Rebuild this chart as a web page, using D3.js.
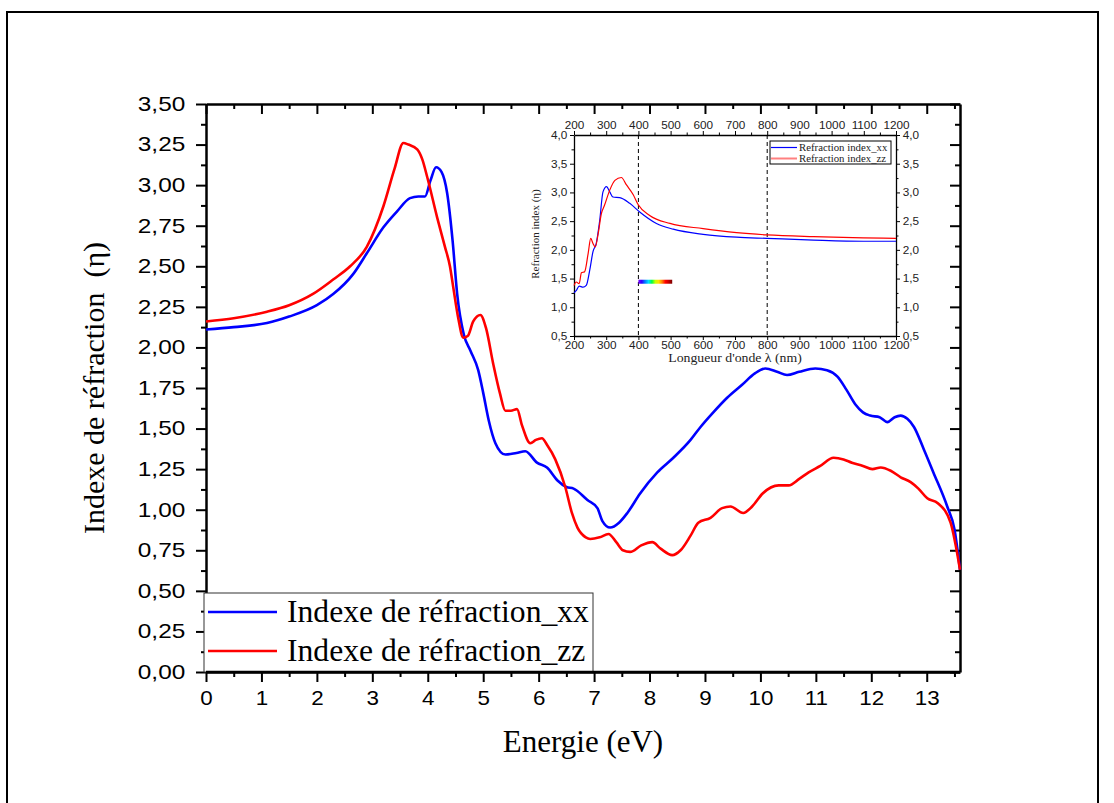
<!DOCTYPE html>
<html>
<head>
<meta charset="utf-8">
<script src="https://cdn.jsdelivr.net/npm/d3@7"></script>
<style>
  html, body { margin: 0; padding: 0; background: #fff; }
  svg { display: block; }
</style>
</head>
<body>
<svg id="chart" width="1114" height="803"></svg>
<script>
// Refractive index vs photon energy (eV), two polarisations
const energyXX = [0, 0.5, 1.1, 1.5, 2.0, 2.3, 2.65, 2.9, 3.2, 3.45, 3.68, 3.83, 3.95, 4.05, 4.15, 4.25, 4.35, 4.45, 4.53, 4.65, 4.77, 4.91, 5.0, 5.1, 5.22, 5.4, 5.6, 5.76, 5.97, 6.15, 6.34, 6.5, 6.63, 6.88, 7.06, 7.15, 7.29, 7.45, 7.6, 7.83, 8.14, 8.43, 8.74, 8.92, 9.15, 9.4, 9.67, 9.9, 10.09, 10.3, 10.48, 10.7, 10.99, 11.2, 11.39, 11.55, 11.71, 11.85, 11.98, 12.15, 12.29, 12.42, 12.53, 12.65, 12.77, 12.95, 13.12, 13.37, 13.5, 13.6];
const indexXX  = [2.11, 2.125, 2.15, 2.19, 2.26, 2.33, 2.45, 2.58, 2.74, 2.84, 2.92, 2.93, 2.93, 3.03, 3.11, 3.08, 2.95, 2.65, 2.33, 2.08, 1.98, 1.86, 1.72, 1.55, 1.41, 1.34, 1.35, 1.36, 1.29, 1.26, 1.18, 1.14, 1.13, 1.06, 1.01, 0.93, 0.89, 0.92, 0.98, 1.10, 1.23, 1.32, 1.43, 1.51, 1.60, 1.69, 1.77, 1.84, 1.87, 1.85, 1.83, 1.85, 1.87, 1.86, 1.82, 1.74, 1.65, 1.60, 1.58, 1.57, 1.54, 1.57, 1.58, 1.56, 1.51, 1.37, 1.23, 1.02, 0.88, 0.63];

const energyZZ = [0, 0.5, 1.1, 1.5, 1.93, 2.3, 2.6, 2.9, 3.2, 3.4, 3.56, 3.65, 3.81, 3.9, 3.99, 4.17, 4.31, 4.4, 4.46, 4.55, 4.64, 4.72, 4.82, 4.95, 5.05, 5.18, 5.3, 5.4, 5.5, 5.61, 5.7, 5.85, 5.95, 6.06, 6.15, 6.3, 6.48, 6.6, 6.7, 6.85, 6.93, 7.1, 7.26, 7.4, 7.52, 7.65, 7.85, 8.05, 8.2, 8.41, 8.56, 8.74, 8.88, 9.1, 9.31, 9.46, 9.69, 9.85, 10.04, 10.33, 10.51, 10.7, 10.87, 11.08, 11.32, 11.5, 11.65, 11.85, 12.02, 12.17, 12.35, 12.53, 12.71, 12.85, 13.01, 13.2, 13.43, 13.6];
const indexZZ  = [2.16, 2.18, 2.22, 2.26, 2.33, 2.42, 2.50, 2.62, 2.87, 3.10, 3.26, 3.25, 3.22, 3.16, 3.05, 2.80, 2.62, 2.50, 2.37, 2.18, 2.06, 2.07, 2.16, 2.20, 2.12, 1.90, 1.72, 1.61, 1.61, 1.62, 1.52, 1.41, 1.43, 1.44, 1.40, 1.31, 1.14, 0.98, 0.89, 0.83, 0.82, 0.83, 0.85, 0.80, 0.75, 0.74, 0.78, 0.80, 0.76, 0.72, 0.75, 0.84, 0.92, 0.95, 1.01, 1.02, 0.98, 1.02, 1.10, 1.15, 1.15, 1.19, 1.23, 1.27, 1.32, 1.31, 1.29, 1.27, 1.25, 1.26, 1.24, 1.20, 1.17, 1.13, 1.07, 1.04, 0.92, 0.63];

// Inset: refractive index vs wavelength (nm)
const waveXX  = [200, 208, 216, 228, 238, 249, 259, 269, 280, 290, 301, 311, 321, 342, 373, 404, 456, 508, 601, 705, 799, 944, 1099, 1200];
const insetXX = [1.25, 1.30, 1.37, 1.35, 1.38, 1.65, 1.97, 2.11, 2.52, 3.01, 3.10, 3.01, 2.92, 2.91, 2.81, 2.66, 2.46, 2.36, 2.27, 2.22, 2.20, 2.17, 2.15, 2.15];
const waveZZ  = [200, 207, 216, 223, 233, 244, 252, 259, 266, 275, 285, 295, 311, 327, 347, 363, 384, 399, 435, 498, 601, 705, 799, 944, 1099, 1200];
const insetZZ = [1.38, 1.44, 1.41, 1.60, 1.62, 1.94, 2.20, 2.11, 2.05, 2.28, 2.63, 2.78, 3.04, 3.21, 3.26, 3.13, 2.96, 2.79, 2.60, 2.46, 2.37, 2.30, 2.26, 2.23, 2.21, 2.20];

const energyTicks = d3.range(0, 14, 1);
const indexTicks = d3.range(0, 3.501, 0.25);
const waveTicks = d3.range(200, 1201, 100);
const insetIndexTicks = d3.range(0.5, 4.001, 0.5);
const visibleBand = [400, 800];
const spectrumRange = [400, 505];
const spectrumLevel = 1.445;
const spectrumColors = ["#7a00ff", "#2a00ff", "#0080ff", "#00e0ff", "#00ff40", "#c8ff00", "#ffe000", "#ff8000", "#ff0000", "#c00000", "#7a0000"];

const mainLegend = ["Indexe de réfraction_xx", "Indexe de réfraction_zz"];
const insetLegend = ["Refraction index_xx", "Refraction index_zz"];

const svg = d3.select("#chart");
const comma = f => d => d3.format(f)(d).replace(".", ",");

// outer frame
svg.append("path")
  .attr("d", "M7,803V12H1098V803")
  .attr("fill", "none").attr("stroke", "#000").attr("stroke-width", 2);

// ---------- main plot ----------
const x = d3.scaleLinear().domain([0, 13.6]).range([206, 960]);
const y = d3.scaleLinear().domain([0, 3.5]).range([672, 104]);

const main = svg.append("g");
const tickFont = "'Liberation Sans', Arial, sans-serif";
const serif = "'Liberation Serif', 'Times New Roman', serif";

function styleAxis(g, w) {
  g.select(".domain").attr("stroke-width", w);
  g.selectAll(".tick line").attr("stroke-width", w * 0.8);
}

// minor ticks
main.append("g").attr("transform", "translate(0,672)")
  .call(d3.axisBottom(x).tickValues(d3.range(0.5, 13.6, 1)).tickSize(5).tickFormat(""))
  .call(g => { g.select(".domain").remove(); g.selectAll("line").attr("stroke-width", 2); });
main.append("g").attr("transform", "translate(206,0)")
  .call(d3.axisLeft(y).tickValues(d3.range(0.125, 3.5, 0.25)).tickSize(5).tickFormat(""))
  .call(g => { g.select(".domain").remove(); g.selectAll("line").attr("stroke-width", 2); });
main.append("g").attr("transform", "translate(0,104)")
  .call(d3.axisTop(x).tickValues(d3.range(0.5, 13.6, 1)).tickSize(-5).tickFormat(""))
  .call(g => { g.select(".domain").remove(); g.selectAll("line").attr("stroke-width", 2); });
main.append("g").attr("transform", "translate(960,0)")
  .call(d3.axisRight(y).tickValues(d3.range(0.125, 3.5, 0.25)).tickSize(-5).tickFormat(""))
  .call(g => { g.select(".domain").remove(); g.selectAll("line").attr("stroke-width", 2); });

// major axes
const xAxis = main.append("g").attr("transform", "translate(0,672)")
  .call(d3.axisBottom(x).tickValues(energyTicks).tickSize(10).tickSizeOuter(0).tickPadding(9).tickFormat(d3.format("d")))
  .call(g => styleAxis(g, 2.5));
xAxis.selectAll("text").attr("font-family", tickFont).attr("font-size", 20).attr("fill", "#000")
  .attr("transform", "scale(1.12,1)");

const yAxis = main.append("g").attr("transform", "translate(206,0)")
  .call(d3.axisLeft(y).tickValues(indexTicks).tickSize(10).tickSizeOuter(0).tickPadding(4).tickFormat(comma(".2f")))
  .call(g => styleAxis(g, 2.5));
yAxis.selectAll("text").attr("font-family", tickFont).attr("font-size", 20).attr("fill", "#000")
  .attr("transform", "scale(1.22,1)").attr("x", -17);

main.append("g").attr("transform", "translate(0,104)")
  .call(d3.axisTop(x).tickValues(energyTicks).tickSize(-10).tickSizeOuter(0).tickFormat(""))
  .call(g => styleAxis(g, 2.5));
main.append("g").attr("transform", "translate(960,0)")
  .call(d3.axisRight(y).tickValues(indexTicks).tickSize(-10).tickSizeOuter(0).tickFormat(""))
  .call(g => styleAxis(g, 2.5));

// axis titles
main.append("text").attr("x", 583).attr("y", 752).attr("text-anchor", "middle")
  .attr("font-family", serif).attr("font-size", 31).text("Energie (eV)");
main.append("text").attr("transform", "translate(104,388) rotate(-90)").attr("text-anchor", "middle")
  .attr("font-family", serif).attr("font-size", 30).attr("xml:space", "preserve").text("Indexe de réfraction  (η)");

// curves
const mainLine = (xs, ys) => d3.line().curve(d3.curveMonotoneX)
  .x((d, i) => x(xs[i])).y((d, i) => y(ys[i]))(xs);
main.append("path").attr("d", mainLine(energyXX, indexXX))
  .attr("fill", "none").attr("stroke", "#0000ff").attr("stroke-width", 2.6);
main.append("path").attr("d", mainLine(energyZZ, indexZZ))
  .attr("fill", "none").attr("stroke", "#ff0000").attr("stroke-width", 2.6);

// legend
const leg = main.append("g");
leg.append("rect").attr("x", 204).attr("y", 593).attr("width", 389).attr("height", 79)
  .attr("fill", "#fff").attr("stroke", "#333").attr("stroke-width", 1);
[["#0000ff", 612], ["#ff0000", 651]].forEach(([c, yy], i) => {
  leg.append("line").attr("x1", 208).attr("x2", 277).attr("y1", yy).attr("y2", yy)
    .attr("stroke", c).attr("stroke-width", 2.6);
  leg.append("text").attr("transform", `translate(287,${yy + 10}) scale(1.02,1)`).attr("font-family", serif)
    .attr("font-size", 31).text(mainLegend[i]);
});
// redraw bottom axis line over legend edge
main.append("line").attr("x1", 206).attr("x2", 960).attr("y1", 672).attr("y2", 672)
  .attr("stroke", "#000").attr("stroke-width", 2.5);

// ---------- inset ----------
const ix = d3.scaleLinear().domain([200, 1200]).range([574, 896]);
const iy = d3.scaleLinear().domain([0.5, 4.0]).range([336, 135]);
const inset = svg.append("g");
const insetText = g => g.selectAll("text").attr("font-family", tickFont).attr("font-size", 10.5).attr("fill", "#222");
const thin = g => { g.select(".domain").attr("stroke-width", 1.3); g.selectAll("line").attr("stroke-width", 1); };

[[d3.axisBottom, 336], [d3.axisTop, 135]].forEach(([ax, pos]) => {
  inset.append("g").attr("transform", `translate(0,${pos})`)
    .call(ax(ix).tickValues(d3.range(250, 1200, 100)).tickSize(2.5).tickFormat(""))
    .call(g => { g.select(".domain").remove(); g.selectAll("line").attr("stroke-width", 1); });
  inset.append("g").attr("transform", `translate(0,${pos})`)
    .call(ax(ix).tickValues(waveTicks).tickSize(4).tickSizeOuter(0).tickPadding(2).tickFormat(d3.format("d")))
    .call(thin).call(insetText)
    .call(g => g.selectAll("text").attr("transform", "scale(1.12,1)"));
});
[[d3.axisLeft, 574, -6], [d3.axisRight, 896, 6]].forEach(([ax, pos, off]) => {
  inset.append("g").attr("transform", `translate(${pos},0)`)
    .call(ax(iy).tickValues(d3.range(0.75, 4, 0.5)).tickSize(2.5).tickFormat(""))
    .call(g => { g.select(".domain").remove(); g.selectAll("line").attr("stroke-width", 1); });
  inset.append("g").attr("transform", `translate(${pos},0)`)
    .call(ax(iy).tickValues(insetIndexTicks).tickSize(4).tickSizeOuter(0).tickPadding(2).tickFormat(comma(".1f")))
    .call(thin).call(insetText)
    .call(g => g.selectAll("text").attr("transform", "scale(1.12,1)").attr("x", off));
});

// visible-range markers
visibleBand.forEach(w => {
  inset.append("line").attr("x1", ix(w)).attr("x2", ix(w)).attr("y1", 135).attr("y2", 336)
    .attr("stroke", "#000").attr("stroke-width", 1).attr("stroke-dasharray", "4,3");
});

// spectrum strip
const grad = svg.append("defs").append("linearGradient").attr("id", "spectrum");
spectrumColors.forEach((c, i) => grad.append("stop")
  .attr("offset", `${(i / (spectrumColors.length - 1)) * 100}%`).attr("stop-color", c));
inset.append("rect").attr("x", ix(spectrumRange[0])).attr("width", ix(spectrumRange[1]) - ix(spectrumRange[0]))
  .attr("y", iy(spectrumLevel) - 2).attr("height", 4).attr("fill", "url(#spectrum)");

const insetLine = (xs, ys) => d3.line().curve(d3.curveMonotoneX)
  .x((d, i) => ix(xs[i])).y((d, i) => iy(ys[i]))(xs);
inset.append("path").attr("d", insetLine(waveXX, insetXX))
  .attr("fill", "none").attr("stroke", "#0000ff").attr("stroke-width", 1.2);
inset.append("path").attr("d", insetLine(waveZZ, insetZZ))
  .attr("fill", "none").attr("stroke", "#ff0000").attr("stroke-width", 1.2);

// inset titles
inset.append("text").attr("transform", "translate(735,362) scale(1.2,1)").attr("text-anchor", "middle")
  .attr("font-family", serif).attr("font-size", 11.5).attr("fill", "#222").text("Longueur d'onde λ (nm)");
inset.append("text").attr("transform", "translate(539,234) rotate(-90)").attr("text-anchor", "middle")
  .attr("font-family", serif).attr("font-size", 11).attr("fill", "#222").text("Refraction index (η)");

// inset legend
const il = inset.append("g");
il.append("rect").attr("x", 770).attr("y", 141).attr("width", 121).attr("height", 23)
  .attr("fill", "#fff").attr("stroke", "#000").attr("stroke-width", 1);
[["#0000ff", 147.5, 1.2], ["#ff8080", 158.5, 2]].forEach(([c, yy, w], i) => {
  il.append("line").attr("x1", 771).attr("x2", 797).attr("y1", yy).attr("y2", yy)
    .attr("stroke", c).attr("stroke-width", w);
  il.append("text").attr("transform", `translate(799,${yy + 3.5}) scale(1.08,1)`).attr("font-family", serif)
    .attr("font-size", 10).attr("fill", "#222").text(insetLegend[i]);
});
</script>
</body>
</html>
